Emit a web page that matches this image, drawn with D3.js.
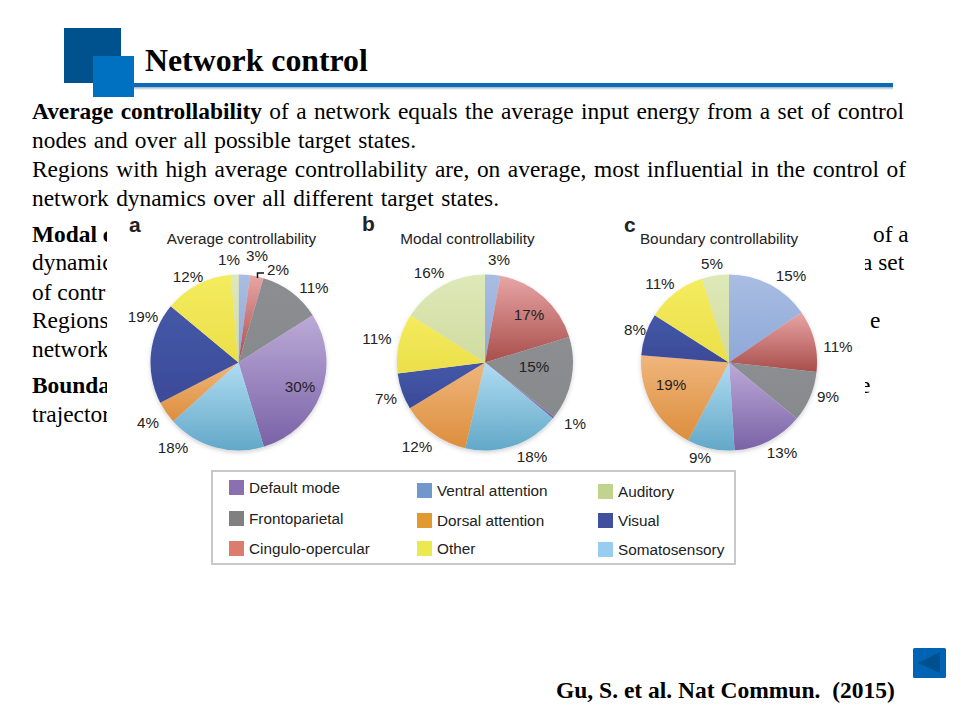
<!DOCTYPE html>
<html><head><meta charset="utf-8">
<script src="https://cdn.jsdelivr.net/npm/d3@7"></script>
<style>html,body{margin:0;background:#fff}svg{display:block}
.b{font-family:"Liberation Serif",serif;font-size:23.4px;fill:#000;white-space:pre}
.s{font-family:"Liberation Sans",Arial,sans-serif;fill:#222}</style></head>
<body><svg id="c" width="960" height="720"></svg>
<script>
const categories=["Ventral attention","Cingulo-opercular","Frontoparietal","Default mode","Somatosensory","Dorsal attention","Visual","Other","Auditory"];
const averageValues=[2.1,2.5,11.4,29.4,18,4.1,18.6,12.6,1.4];
const modalValues=[2.8,17.5,15.3,0.4,17.6,12.7,6.7,11,16];
const boundaryValues=[15.4,11.3,9.3,13,8.7,18.6,7.7,11,5];
const averageLabels=[3,2,11,30,18,4,19,12,1];
const modalLabels=[3,17,15,1,18,12,7,11,16];
const boundaryLabels=[15,11,9,13,9,19,8,11,5];
const lightColors=["#a9bde2","#e8a5a5","#8c8e92","#bcaad8","#b0dcf2","#efb67c","#4558a8","#f4ec5e","#dfe8b8"];
const darkColors=["#8ea8d8","#a84e4c","#878a8c","#7a62a6","#62a8c8","#dd8e3c","#3b4a98","#ebdf4a","#cfdca0"];
const legendNames=["Default mode","Frontoparietal","Cingulo-opercular","Ventral attention","Dorsal attention","Other","Auditory","Visual","Somatosensory"];
const legendColors=["#8a70b0","#808080","#dc7c6c","#7098cc","#e09a30","#ece850","#c0d490","#40509c","#98ccf0"];
const chartTitles=["Average controllability","Modal controllability","Boundary controllability"];
const panelLetters=["a","b","c"];

const svg=d3.select("#c");
const defs=svg.append("defs");
const f=defs.append("filter").attr("id","sh").attr("x","-10%").attr("y","-10%").attr("width","120%").attr("height","120%");
f.append("feDropShadow").attr("dx",0).attr("dy",2).attr("stdDeviation",2).attr("flood-color","#000").attr("flood-opacity",.18);
const lg=defs.append("linearGradient").attr("id","rule").attr("x1",0).attr("y1",0).attr("x2",0).attr("y2",1);
lg.append("stop").attr("offset",0).attr("stop-color","#9fb0bd");lg.append("stop").attr("offset",1).attr("stop-color","#fff");
defs.append("clipPath").attr("id","clipL").append("rect").attr("x",0).attr("y",0).attr("width",107).attr("height",720);
defs.append("clipPath").attr("id","clipR").append("rect").attr("x",865).attr("y",0).attr("width",95).attr("height",720);

// header
svg.append("rect").attr("x",64).attr("y",28).attr("width",57).attr("height",55).attr("fill","#00528f");
svg.append("rect").attr("x",134).attr("y",87).attr("width",759).attr("height",3).attr("fill","url(#rule)");
svg.append("rect").attr("x",134).attr("y",83).attr("width",759).attr("height",4).attr("fill","#0a6cb8");
svg.append("rect").attr("x",93).attr("y",56).attr("width",41).attr("height",41).attr("fill","#0070c0");
svg.append("text").attr("x",145).attr("y",71).attr("font-family","Liberation Serif").attr("font-weight",700).attr("font-size",31.8).text("Network control");

// body text
const fullLines=[[32,119,904,[["Average controllability",700],[" of a network equals the average input energy from a set of control",400]]],
[32,148,416,[["nodes and over all possible target states.",400]]],
[32,177,906,[["Regions with high average controllability are, on average, most influential in the control of",400]]],
[32,206,499,[["network dynamics over all different target states.",400]]]];
fullLines.forEach(l=>{
 const t=svg.append("text").attr("class","b").attr("x",l[0]).attr("y",l[1]);
 l[3].forEach(s=>t.append("tspan").attr("font-weight",s[1]).text(s[0]));
 const w=t.node().getComputedTextLength();
 const spaces=l[3].map(s=>s[0]).join("").split(" ").length-1;
 t.style("word-spacing",((l[2]-l[0]-w)/spaces)+"px");
});
const clippedLeft=[[242,"Modal c",700],[270,"dynamic",400],[300,"of contr",400],[328,"Regions",400],[357,"network",400],[393,"Bounda",700],[422,"trajector",400]];
svg.append("g").attr("clip-path","url(#clipL)").selectAll("text").data(clippedLeft).join("text").attr("class","b")
 .attr("x",32).attr("y",d=>d[0]).attr("font-weight",d=>d[2]).text(d=>d[1]);
const clippedRight=[[873,242,"of a"],[862,270,"a set"],[870,328,"e"],[860,393,"e"]];
svg.append("g").attr("clip-path","url(#clipR)").selectAll("text").data(clippedRight).join("text").attr("class","b")
 .attr("x",d=>d[0]).attr("y",d=>d[1]).text(d=>d[2]);

// pies
const cx=[238.5,485,729], cy=362.5, R=88;
const pie=d3.pie().sort(null).value(d=>d);
const arc=d3.arc().innerRadius(0).outerRadius(R);
const allValues=[averageValues,modalValues,boundaryValues];
const allLabels=[averageLabels,modalLabels,boundaryLabels];
allValues.forEach((vals,p)=>{
 const g=svg.append("g").attr("transform",`translate(${cx[p]},${cy})`).attr("filter","url(#sh)");
 g.selectAll("path").data(pie(vals)).join("path").attr("d",arc).each(function(d,i){
   const id=`g${p}_${i}`;
   const gr=defs.append("linearGradient").attr("id",id).attr("x1",0).attr("y1",0).attr("x2",0).attr("y2",1);
   gr.append("stop").attr("offset",0).attr("stop-color",lightColors[i]);
   gr.append("stop").attr("offset",1).attr("stop-color",darkColors[i]);
   d3.select(this).attr("fill",`url(#${id})`);
 });
});
const labelPos=[
 [[257,256],[278,270],[314,288],[300,387],[173,448],[148,423],[143,317],[188,277],[229,260]],
 [[499,260],[529,315],[534,367],[575,424],[532,457],[417,447],[386,399],[377,339],[429,273]],
 [[791,276],[838,347],[828,397],[782,453],[700,458],[671,385],[635,330],[660,284],[712,264]]];
allLabels.forEach((vals,p)=>{
 svg.append("g").selectAll("text").data(vals).join("text").attr("class","s").attr("font-size",15.2)
  .attr("text-anchor","middle").attr("x",(d,i)=>labelPos[p][i][0]).attr("y",(d,i)=>labelPos[p][i][1]+5).text(d=>d+"%");
});
svg.append("path").attr("d","M257.5 278V273H264").attr("fill","none").attr("stroke","#111").attr("stroke-width",1.5);
const titleX=[241.5,467.5,719], letterX=[129,362,624], letterY=[232,231,232];
chartTitles.forEach((t,i)=>{
 svg.append("text").attr("class","s").attr("font-size",15.3).attr("text-anchor","middle").attr("x",titleX[i]).attr("y",244).text(t);
 svg.append("text").attr("class","s").attr("x",letterX[i]).attr("y",letterY[i]).attr("font-size",21).attr("font-weight",700).attr("fill","#111").text(panelLetters[i]);
});

// legend
svg.append("rect").attr("x",212).attr("y",471).attr("width",523).attr("height",93).attr("fill","#fff").attr("stroke","#c8c8c8").attr("stroke-width",2);
const lx=[229,229,229,417,417,417,598,598,598];
const ly=[480,511,541,483,513,541,484,513,542];
legendNames.forEach((n,i)=>{
 svg.append("rect").attr("x",lx[i]).attr("y",ly[i]).attr("width",15).attr("height",15).attr("fill",legendColors[i]);
 svg.append("text").attr("class","s").attr("font-size",15.3).attr("x",lx[i]+20).attr("y",ly[i]+13).text(n);
});

// footer
svg.append("text").attr("x",556).attr("y",698).attr("font-family","Liberation Serif").attr("font-weight",700).attr("font-size",23.5).attr("xml:space","preserve").style("white-space","pre").text("Gu, S. et al. Nat Commun.  (2015)");
svg.append("rect").attr("x",913).attr("y",648).attr("width",33).attr("height",30).attr("rx",1.5).attr("fill","#0064b4");
svg.append("path").attr("d","M918 663L940 652V673Z").attr("fill","#00508f");
</script></body></html>
